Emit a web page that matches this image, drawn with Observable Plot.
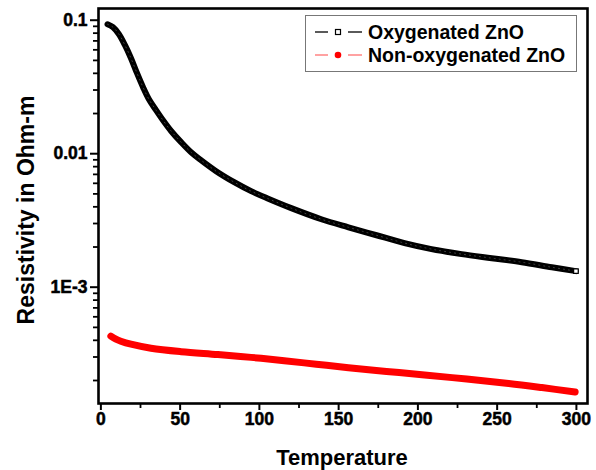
<!DOCTYPE html>
<html><head><meta charset="utf-8">
<script src="https://cdn.jsdelivr.net/npm/d3@7"></script>
<script src="https://cdn.jsdelivr.net/npm/@observablehq/plot@0.6"></script>
<style>
body{margin:0;background:#fff;}
#chart svg{display:block;}
</style>
</head><body><div id="chart"></div>
<script>
// Oxygenated ZnO
const oxyT = [4.2, 7.6, 11.4, 15.2, 19.0, 22.8, 26.6, 30.3, 34.8, 39.2, 44.3, 50.6, 56.9, 63.2, 72.7, 84.1, 94.8, 105.6, 120.1, 139.1, 156.2, 173.9, 191.6, 208.6, 227.6, 246.6, 265.5, 284.5, 299.7];
const oxyR = [0.0933, 0.0887, 0.0786, 0.0650, 0.0519, 0.0401, 0.0315, 0.0256, 0.0212, 0.0178, 0.0148, 0.0122, 0.01025, 0.00894, 0.0074, 0.00612, 0.00524, 0.00460, 0.00391, 0.00323, 0.00281, 0.00245, 0.00214, 0.00193, 0.00177, 0.00165, 0.00154, 0.00141, 0.00132];
// Non-oxygenated ZnO
const nonT = [6.3, 9.5, 12.6, 19.0, 31.6, 50.6, 73.8, 94.8, 115.7, 135.9, 156.2, 180.2, 204.2, 230.8, 257.3, 278.2, 299.2];
const nonR = [4.30e-4, 4.08e-4, 3.94e-4, 3.74e-4, 3.49e-4, 3.29e-4, 3.13e-4, 2.98e-4, 2.81e-4, 2.65e-4, 2.49e-4, 2.34e-4, 2.20e-4, 2.05e-4, 1.90e-4, 1.77e-4, 1.64e-4];

const xTicks = [0, 50, 100, 150, 200, 250, 300];
const xTickLabels = ["0", "50", "100", "150", "200", "250", "300"];
const xMinor = [25, 75, 125, 175, 225, 275];
const yTicks = [0.1, 0.01, 0.001];
const yTickLabels = ["0.1", "0.01", "1E-3"];
const yMinor = [2e-4,3e-4,4e-4,5e-4,6e-4,7e-4,8e-4,9e-4,2e-3,3e-3,4e-3,5e-3,6e-3,7e-3,8e-3,9e-3,2e-2,3e-2,4e-2,5e-2,6e-2,7e-2,8e-2,9e-2];
const seriesNames = ["Oxygenated ZnO", "Non-oxygenated ZnO"];

const oxy = oxyT.map((t, i) => ({t, r: oxyR[i]}));
const non = nonT.map((t, i) => ({t, r: nonR[i]}));
const font = "Liberation Sans, Arial, sans-serif";

const chart = Plot.plot({
  width: 596, height: 470,
  marginLeft: 98, marginRight: 9, marginTop: 8, marginBottom: 67,
  style: {fontFamily: font, fontSize: "17px", color: "#000", background: "#fff"},
  x: {domain: [-1.5, 307]},
  y: {type: "log", domain: [1.345e-4, 0.1224]},
  marks: [
    Plot.axisX({ticks: xMinor, tickSize: 5, tickFormat: () => "", strokeWidth: 1.8, label: null}),
    Plot.axisX({ticks: xTicks, tickSize: 7, tickFormat: () => "", strokeWidth: 2, label: null}),
    Plot.axisY({ticks: yMinor, tickSize: 5, tickFormat: () => "", strokeWidth: 1.8, label: null}),
    Plot.axisY({ticks: yTicks, tickSize: 8, tickFormat: () => "", strokeWidth: 2, label: null}),
    Plot.text(xTicks, {x: d => d, text: (d, i) => xTickLabels[i], frameAnchor: "bottom", dy: 21, fontSize: 17.5, fontWeight: "bold", fontVariant: "normal", fill: "#000", stroke: "#000", strokeWidth: 0.5}),
    Plot.text(yTicks, {y: d => d, text: (d, i) => yTickLabels[i], frameAnchor: "left", dx: -11, textAnchor: "end", fontSize: 17.5, fontWeight: "bold", fontVariant: "normal", fill: "#000", stroke: "#000", strokeWidth: 0.5}),
    Plot.line(oxy, {x: "t", y: "r", stroke: "#000", strokeWidth: 6, curve: "catmull-rom"}),
    Plot.line(oxy, {x: "t", y: "r", stroke: "#444", strokeWidth: 1, strokeDasharray: "1,4", curve: "catmull-rom"}),
    Plot.dot(oxy.slice(-1), {x: "t", y: "r", symbol: "square", r: 2.6, fill: "#fff", stroke: "#000", strokeWidth: 1.2}),
    Plot.line(non, {x: "t", y: "r", stroke: "#ff0000", strokeWidth: 7, strokeLinecap: "round", curve: "catmull-rom"}),
    Plot.frame({stroke: "#000", strokeWidth: 2.6})
  ]
});

const svg = d3.select(chart);
svg.append("text").attr("x", 342).attr("y", 465).attr("text-anchor", "middle")
  .attr("font-family", font).attr("font-weight", "bold").attr("font-size", 22).text("Temperature");
svg.append("text").attr("transform", "translate(34,210) rotate(-90)").attr("text-anchor", "middle")
  .attr("font-family", font).attr("font-weight", "bold").attr("font-size", 23).text("Resistivity in Ohm-m");

const lg = svg.append("g");
lg.append("rect").attr("x", 305.5).attr("y", 15.5).attr("width", 271).attr("height", 56)
  .attr("fill", "#fff").attr("stroke", "#777").attr("stroke-width", 1);
const rows = [
  {y: 32, line: "#000", name: seriesNames[0]},
  {y: 55, line: "#ff7070", name: seriesNames[1]}
];
rows.forEach((r, i) => {
  lg.append("line").attr("x1", 315).attr("x2", 328).attr("y1", r.y).attr("y2", r.y).attr("stroke", r.line).attr("stroke-width", 1.3);
  lg.append("line").attr("x1", 348).attr("x2", 362).attr("y1", r.y).attr("y2", r.y).attr("stroke", r.line).attr("stroke-width", 1.3);
  if (i === 0) {
    lg.append("rect").attr("x", 335.5).attr("y", r.y - 2.5).attr("width", 5).attr("height", 5).attr("fill", "#fff").attr("stroke", "#000").attr("stroke-width", 1.2);
  } else {
    lg.append("circle").attr("cx", 338).attr("cy", r.y).attr("r", 3.3).attr("fill", "#ff0000");
  }
  lg.append("text").attr("x", 368).attr("y", r.y + 7).attr("text-anchor", "start").attr("font-family", font).attr("font-weight", "bold").attr("font-size", 19.5).text(r.name);
});

document.getElementById("chart").appendChild(chart);
</script>
</body></html>
